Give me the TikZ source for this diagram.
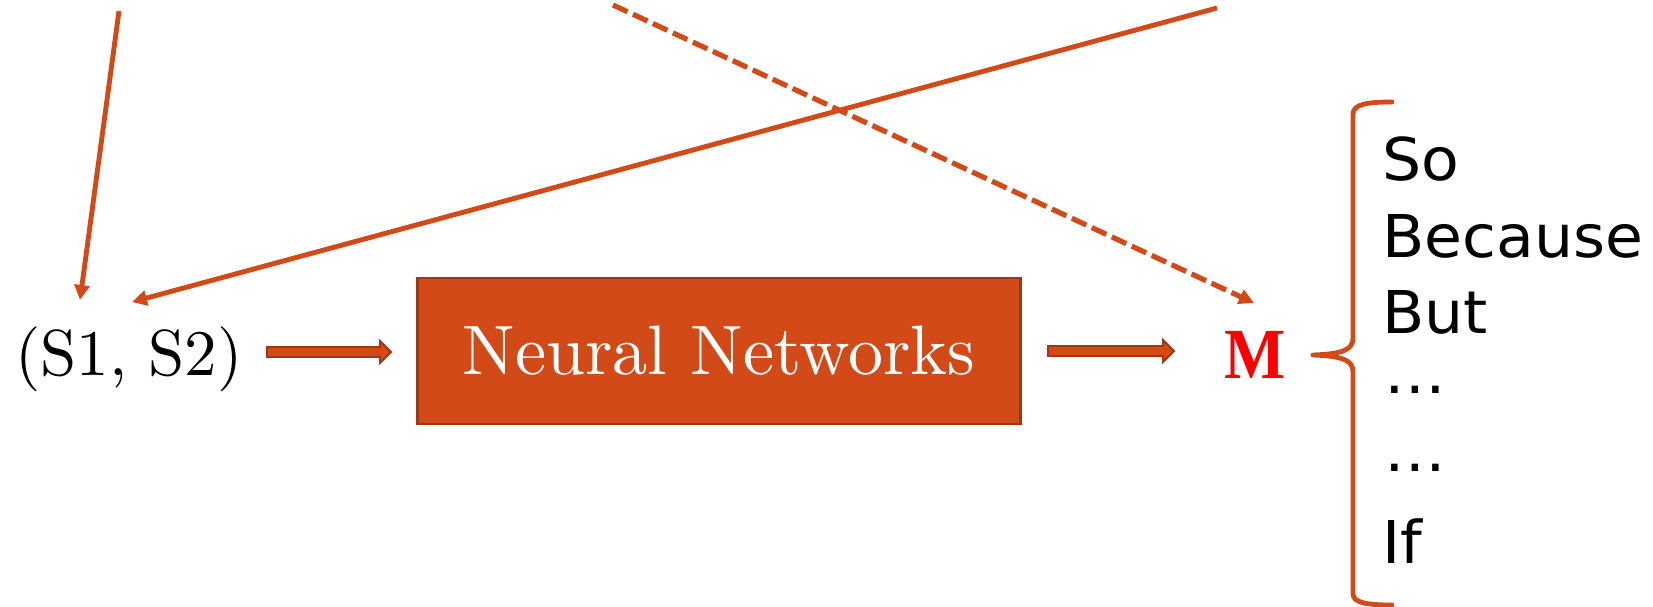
\documentclass[tikz,border=0pt]{standalone}
\usepackage{fontspec}
\usepackage{graphicx}
\usetikzlibrary{arrows.meta,calc}
\newfontfamily\listfont{DejaVu Sans}
\newfontfamily\markfont{Liberation Serif}
\definecolor{accent}{RGB}{209,74,24}
\definecolor{accentdark}{RGB}{160,54,18}
\definecolor{markred}{RGB}{255,0,0}

% wide outlined arrow between two named points (same height)
\newcommand{\fatarrow}[2]{%
  \path[blockarrow] let \p1=(#1), \p2=(#2) in
    (\x1,{\y1+5pt}) -- ({\x2-11pt},{\y1+5pt}) -- ({\x2-11pt},{\y1+11pt})
    -- (\x2,\y1) -- ({\x2-11pt},{\y1-11pt}) -- ({\x2-11pt},{\y1-5pt})
    -- (\x1,{\y1-5pt}) -- cycle;}
% slightly widened sans text for the word list
\newcommand{\wideword}[1]{\scalebox{1.045}[1]{#1}}

\tikzset{
  feed/.style={draw=accent, line width=4.9pt, -{Triangle[length=15pt,width=15pt]}},
  feeddash/.style={feed, line width=5.2pt, dash pattern=on 16pt off 6pt},
  blockarrow/.style={fill=accent, draw=accentdark, line width=1.8pt, line join=miter},
  nnbox/.style={fill=accent, draw=accentdark, line width=2.5pt,
    minimum width=603pt, minimum height=146pt, inner sep=0pt, text=white},
  word/.style={anchor=base west, inner sep=0pt, font=\listfont\fontsize{59}{59}\selectfont},
  bracestyle/.style={draw=accent, line width=4.8pt, line cap=round, line join=round}
}

\begin{document}
\begin{tikzpicture}[x=1pt,y=-1pt]
\useasboundingbox (0,0) rectangle (1653,607);

% main pipeline
\node[anchor=base, inner sep=0pt] (pair) at (129,375)
  {\scalebox{6.5}{\fontsize{10}{12}\selectfont (S1, S2)}};
\node[nnbox] (nn) at (719,351)
  {\scalebox{7.0}{\fontsize{10}{12}\selectfont Neural Networks}};
\node[anchor=base, inner sep=0pt, text=markred] (m) at (1255,378)
  {\scalebox{0.9}[1]{\markfont\bfseries\fontsize{72}{72}\selectfont M}};

\coordinate (a1s) at (267,352);
\coordinate (a1e) at (391,352);
\coordinate (a2s) at (1048,351);
\coordinate (a2e) at (1174,351);
\fatarrow{a1s}{a1e}
\fatarrow{a2s}{a2e}

% incoming connectors
\coordinate (src1) at (119,11);
\coordinate (tip1) at (80,300);
\coordinate (src2) at (1217,8);
\coordinate (tip2) at (132,302);
\coordinate (src3) at (613,5);
\coordinate (tip3) at (1254,303);
\draw[feed] (src1) -- (tip1);
\draw[feed] (src2) -- (tip2);
\draw[feeddash] (src3) -- (tip3);

% brace
\draw[bracestyle] (1392,102) .. controls (1368,102) and (1353,104) .. (1353,114)
  -- (1353,338) .. controls (1353,350) and (1342,354) .. (1313,355)
  .. controls (1342,356) and (1353,360) .. (1353,372)
  -- (1353,594) .. controls (1353,603) and (1368,605) .. (1392,605);

% connective words
\node[word] (w1) at (1382,180) {\wideword{So}};
\node[word] (w2) at (1382,257) {\wideword{Because}};
\node[word] (w3) at (1382,333) {\wideword{But}};
\node[word] (w4) at (1384,393) {\wideword{…}};
\node[word] (w5) at (1384,471) {\wideword{…}};
\node[word] (w6) at (1382,563) {\wideword{If}};
\end{tikzpicture}
\end{document}
